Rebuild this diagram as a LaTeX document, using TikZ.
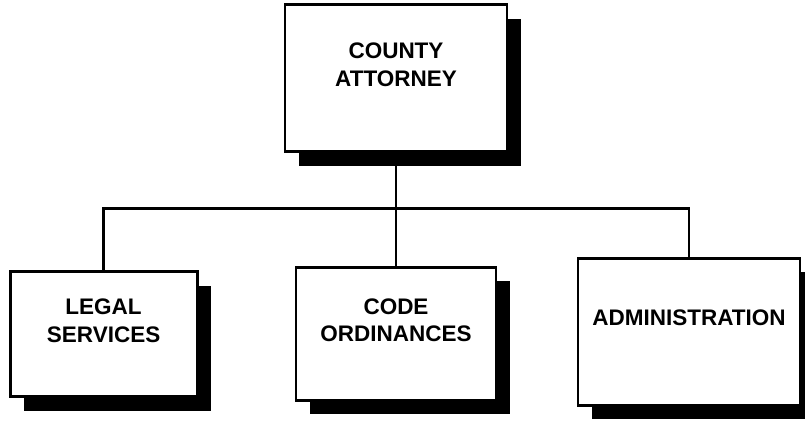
\documentclass[tikz,border=0pt]{standalone}
\usepackage{fontspec}
\setmainfont{Liberation Sans}
\usetikzlibrary{shadows}
\begin{document}
\begin{tikzpicture}[every node/.style={font=\fontsize{16}{19.5}\selectfont\bfseries},
  office/.style={rectangle, draw, line width=2pt, fill=white,
    drop shadow={shadow xshift=0.35cm, shadow yshift=-0.35cm, fill=black, opacity=1}},
  title/.style={align=center, yshift=0.34cm},
  link/.style={line width=1.8pt, black}]
  \useasboundingbox (0,0) rectangle (20.125,10.5);
  % Head of the office
  \node[office, minimum width=5.55cm, minimum height=3.675cm,
    label={[title]center:COUNTY\\ATTORNEY}] (attorney) at (9.9,8.54) {};
  % Divisions below
  \node[office, minimum width=4.675cm, minimum height=3.125cm,
    label={[title]center:LEGAL\\SERVICES}] (legal) at (2.59,2.14) {};
  \node[office, minimum width=5.0cm, minimum height=3.325cm,
    label={[title]center:CODE\\ORDINANCES}] (code) at (9.9,2.16) {};
  \node[office, minimum width=5.55cm, minimum height=3.675cm,
    label={[title]center:ADMINISTRATION}] (admin) at (17.225,2.21) {};
  % Reporting lines
  \draw[link] (attorney.south) -- ++(0,-1.375) coordinate (hub);
  \draw[link] (legal.north) |- (hub) -| (admin.north);
  \draw[link] (hub) -- (code.north);
\end{tikzpicture}
\end{document}
